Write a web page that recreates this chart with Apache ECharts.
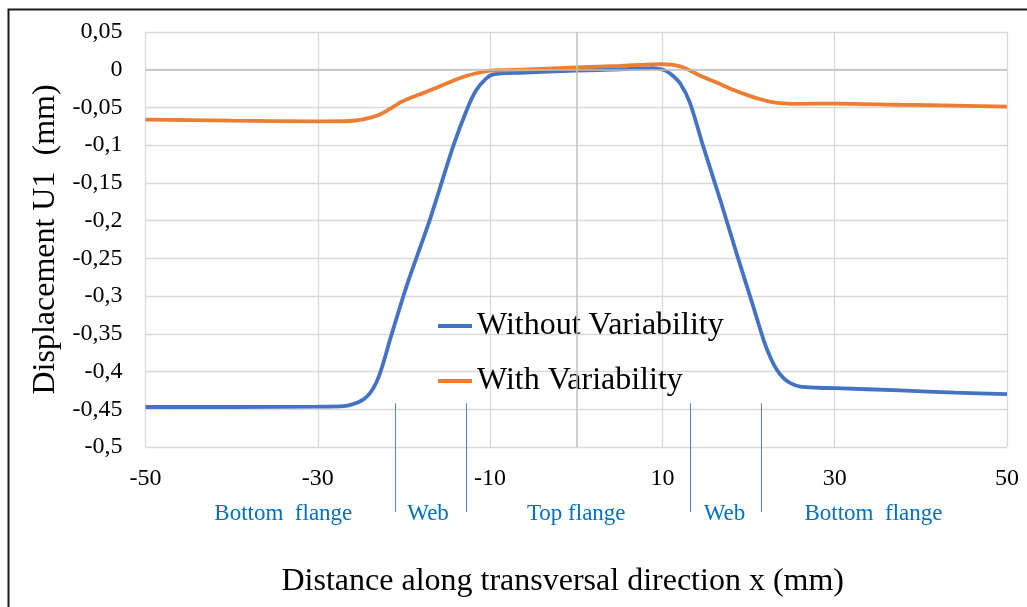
<!DOCTYPE html>
<html>
<head>
<meta charset="utf-8">
<script src="https://cdn.jsdelivr.net/npm/echarts@6/dist/echarts.min.js"></script>
<style>
  html, body { margin: 0; padding: 0; background: #fff; }
  #chart { width: 1027px; height: 607px; }
</style>
</head>
<body>
<div id="chart"></div>
<script>
// curve without variability
const xWithout = [-50, -40, -30, -27, -26, -25, -24.2, -23.5, -22.9, -22.3, -21.6, -19.7, -17, -14.3, -12.7, -11.6, -10.5, -9.6, -6.5, 0, 5, 8.9, 10.1, 11, 12.05, 13.2, 14.75, 16.7, 18.6, 20.55, 21.8, 22.6, 23.3, 24, 24.8, 26, 28, 30, 37.6, 44, 50];
const yWithout = [-0.447, -0.447, -0.4465, -0.4458, -0.4435, -0.439, -0.432, -0.421, -0.406, -0.385, -0.357, -0.287, -0.199, -0.102, -0.053, -0.027, -0.012, -0.006, -0.004, -0.0013, 0.0005, 0.002, 0, -0.006, -0.018, -0.044, -0.102, -0.172, -0.243, -0.314, -0.36, -0.383, -0.398, -0.408, -0.415, -0.42, -0.4215, -0.422, -0.425, -0.428, -0.43];

// curve with variability
const xWith = [-50, -40, -30, -27, -25.6, -24.6, -23.6, -22.8, -22, -21.2, -20.3, -19.2, -17.8, -16.6, -14.5, -12.7, -11.3, -10, -8, 0, 5, 9.7, 11, 12.05, 13.2, 14.4, 16.3, 18.2, 20.2, 21.5, 22.6, 24, 26, 30.1, 37.6, 44, 50];
const yWith = [-0.066, -0.0675, -0.0685, -0.0683, -0.0673, -0.0655, -0.0625, -0.0592, -0.0545, -0.049, -0.0425, -0.037, -0.031, -0.0255, -0.0155, -0.008, -0.004, -0.0013, -0.0005, 0.003, 0.005, 0.0075, 0.0068, 0.0044, -0.001, -0.008, -0.017, -0.0265, -0.035, -0.0395, -0.0425, -0.0445, -0.0452, -0.0448, -0.0464, -0.0475, -0.049];

const seriesNames = ['Without Variability', 'With Variability'];

// cross-section parts along x
const sectionBounds = [-21, -12.8, 13.2, 21.4];
const sectionNames = ['Bottom  flange', 'Web', 'Top flange', 'Web', 'Bottom  flange'];
const sectionCenters = [-34, -17.2, 0, 17.2, 34.5];

const serif = 'Liberation Serif';

const chartDom = document.getElementById('chart');
const myChart = echarts.init(chartDom);

function pairs(xs, ys) {
  return xs.map((x, i) => [x, ys[i]]);
}

const option = {
  animation: false,
  backgroundColor: '#fff',
  grid: { left: 145.5, right: 20, top: 32, bottom: 160 },
  legend: {
    orient: 'vertical',
    left: 438,
    top: 310,
    padding: 0,
    itemWidth: 34,
    itemHeight: 4,
    itemGap: 23,
    icon: 'rect',
    data: seriesNames,
    textStyle: { fontFamily: serif, fontSize: 32, color: '#000' }
  },
  xAxis: {
    type: 'value',
    min: -50,
    max: 50,
    interval: 20,
    name: 'Distance along transversal direction x (mm)',
    nameLocation: 'middle',
    nameGap: 119,
    nameTextStyle: { fontFamily: serif, fontSize: 32, color: '#000', padding: [0, 27, 0, 0] },
    axisLine: { show: false },
    axisTick: { show: false },
    axisLabel: { margin: 20, fontFamily: serif, fontSize: 24, color: '#000' },
    splitLine: { show: true, lineStyle: { color: '#d9d9d9', width: 1.3 } }
  },
  yAxis: {
    type: 'value',
    min: -0.5,
    max: 0.05,
    interval: 0.05,
    name: 'Displacement U1  (mm)',
    nameLocation: 'middle',
    nameGap: 78,
    nameTextStyle: { fontFamily: serif, fontSize: 32, color: '#000' },
    axisLine: { show: false },
    axisTick: { show: false },
    axisLabel: {
      margin: 23,
      fontFamily: serif,
      fontSize: 24,
      color: '#000',
      formatter: function (v) {
        return String(Math.round(v * 100) / 100).replace('.', ',');
      }
    },
    splitLine: { show: true, lineStyle: { color: '#d9d9d9', width: 1.3 } }
  },
  series: [
    {
      name: seriesNames[0],
      type: 'line',
      data: pairs(xWithout, yWithout),
      smooth: 0.25,
      showSymbol: false,
      symbol: 'none',
      lineStyle: { color: '#4472c4', width: 3.8 },
      itemStyle: { color: '#4472c4' },
      markLine: {
        silent: true,
        symbol: 'none',
        label: { show: false },
        lineStyle: { color: '#bfbfbf', width: 1.5, type: 'solid' },
        data: [{ xAxis: 0 }, { yAxis: 0 }]
      },
      z: 3
    },
    {
      name: seriesNames[1],
      type: 'line',
      data: pairs(xWith, yWith),
      smooth: 0.25,
      showSymbol: false,
      symbol: 'none',
      lineStyle: { color: '#ed7d31', width: 3.8 },
      itemStyle: { color: '#ed7d31' },
      z: 4
    }
  ]
};

myChart.setOption(option);

// dividers and part names under the axis, placed through the axis scale
const gridBottom = myChart.convertToPixel({ yAxisIndex: 0 }, -0.5);
const dividerTop = myChart.convertToPixel({ yAxisIndex: 0 }, -0.442);
const graphics = [];

sectionBounds.forEach(function (b) {
  const px = Math.round(myChart.convertToPixel({ xAxisIndex: 0 }, b)) + 0.5;
  graphics.push({
    type: 'line',
    shape: { x1: px, y1: dividerTop, x2: px, y2: gridBottom + 65 },
    style: { stroke: '#5b83d0', lineWidth: 1 },
    z: 10
  });
});

sectionNames.forEach(function (name, i) {
  graphics.push({
    type: 'text',
    x: myChart.convertToPixel({ xAxisIndex: 0 }, sectionCenters[i]),
    y: gridBottom + 67,
    style: {
      text: name,
      fill: '#0070c0',
      font: '23px "Liberation Serif"',
      align: 'center',
      verticalAlign: 'middle'
    },
    z: 10
  });
});

// outer frame
graphics.push({
  type: 'rect',
  shape: { x: 8.5, y: 9.5, width: 1100, height: 700 },
  style: { fill: null, stroke: '#1a1a1a', lineWidth: 2 },
  z: 20
});

myChart.setOption({ graphic: graphics });
</script>
</body>
</html>
